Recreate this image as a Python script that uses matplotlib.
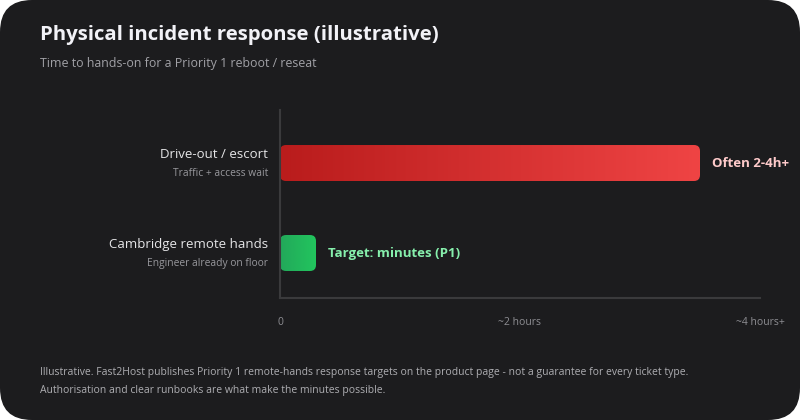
import numpy as np
from matplotlib import pyplot as plt
from matplotlib.patches import FancyBboxPatch
from matplotlib.colors import LinearSegmentedColormap

categories = ["Drive-out / escort", "Cambridge remote hands"]
sublabels = ["Traffic + access wait", "Engineer already on floor"]
hours = [3.5, 0.3]
value_labels = ["Often 2-4h+", "Target: minutes (P1)"]
tick_pos = [0, 2, 4]
tick_labels = ["0", "~2 hours", "~4 hours+"]

bar_colors = [("#b91c1c", "#ef4444"), ("#22a85a", "#22c55e")]
label_colors = ["#fecaca", "#86efac"]

BG = "#1c1c1e"
W, H = 800, 420

plt.rcParams['font.family'] = ['Open Sans', 'DejaVu Sans']

fig = plt.figure(figsize=(8, 4.2), dpi=100, facecolor="white")
card = FancyBboxPatch((0, 0), 1, 1, boxstyle="round,pad=0,rounding_size=0.04",
                      mutation_aspect=W / H, transform=fig.transFigure,
                      facecolor=BG, edgecolor="none", zorder=-5)
fig.patches.append(card)

ax = fig.add_axes([280 / W, (H - 298) / H, 480 / W, 188 / H])
ax.set_facecolor("none")
ax.set_xlim(0, 4)
ax.set_ylim(1.5, -0.589)

bh = 0.4
aspect = (1 / 90) / (1 / 120)
for i, (val, (c0, c1)) in enumerate(zip(hours, bar_colors)):
    cmap = LinearSegmentedColormap.from_list("g%d" % i, [c0, c1])
    grad = np.linspace(0, 1, 256).reshape(1, -1)
    im = ax.imshow(grad, cmap=cmap, aspect="auto",
                   extent=[0, val, i + bh / 2, i - bh / 2], zorder=2)
    box = FancyBboxPatch((0, i - bh / 2), val, bh,
                         boxstyle="round,pad=0,rounding_size=0.05",
                         mutation_aspect=aspect, facecolor="none",
                         edgecolor="none", transform=ax.transData)
    ax.add_patch(box)
    im.set_clip_path(box)
    ax.text(val + 0.1, i, value_labels[i], color=label_colors[i],
            fontsize=9.5, fontweight="bold", va="center", ha="left")
    ax.annotate(categories[i], (0, i), xytext=(-12, 9), textcoords="offset pixels",
                ha="right", va="center", color="#e5e5e7", fontsize=9.5)
    ax.annotate(sublabels[i], (0, i), xytext=(-12, -10), textcoords="offset pixels",
                ha="right", va="center", color="#98989d", fontsize=7.4)

ax.set_xlim(0, 4)
ax.set_ylim(1.5, -0.589)
for s in ["top", "right"]:
    ax.spines[s].set_visible(False)
for s in ["left", "bottom"]:
    ax.spines[s].set_color("#3a3a3c")
    ax.spines[s].set_linewidth(1.5)
ax.set_yticks([])
ax.set_xticks(tick_pos)
ax.set_xticklabels(tick_labels)
ax.tick_params(axis="x", length=0, pad=14, colors="#8e8e93", labelsize=7.5)

fig.text(40 / W, 1 - 35 / H, "Physical incident response (illustrative)",
         color="#f2f2f7", fontsize=14.7, fontweight="bold", va="center")
fig.text(40 / W, 1 - 63 / H, "Time to hands-on for a Priority 1 reboot / reseat",
         color="#a1a1a6", fontsize=8.9, va="center")
fig.text(40 / W, 1 - 372 / H,
         "Illustrative. Fast2Host publishes Priority 1 remote-hands response targets on the product page - not a guarantee for every ticket type.",
         color="#aeaeb2", fontsize=7.5, va="center")
fig.text(40 / W, 1 - 391 / H,
         "Authorisation and clear runbooks are what make the minutes possible.",
         color="#aeaeb2", fontsize=7.5, va="center")

fig.savefig("out.png", dpi=100, facecolor="white")
